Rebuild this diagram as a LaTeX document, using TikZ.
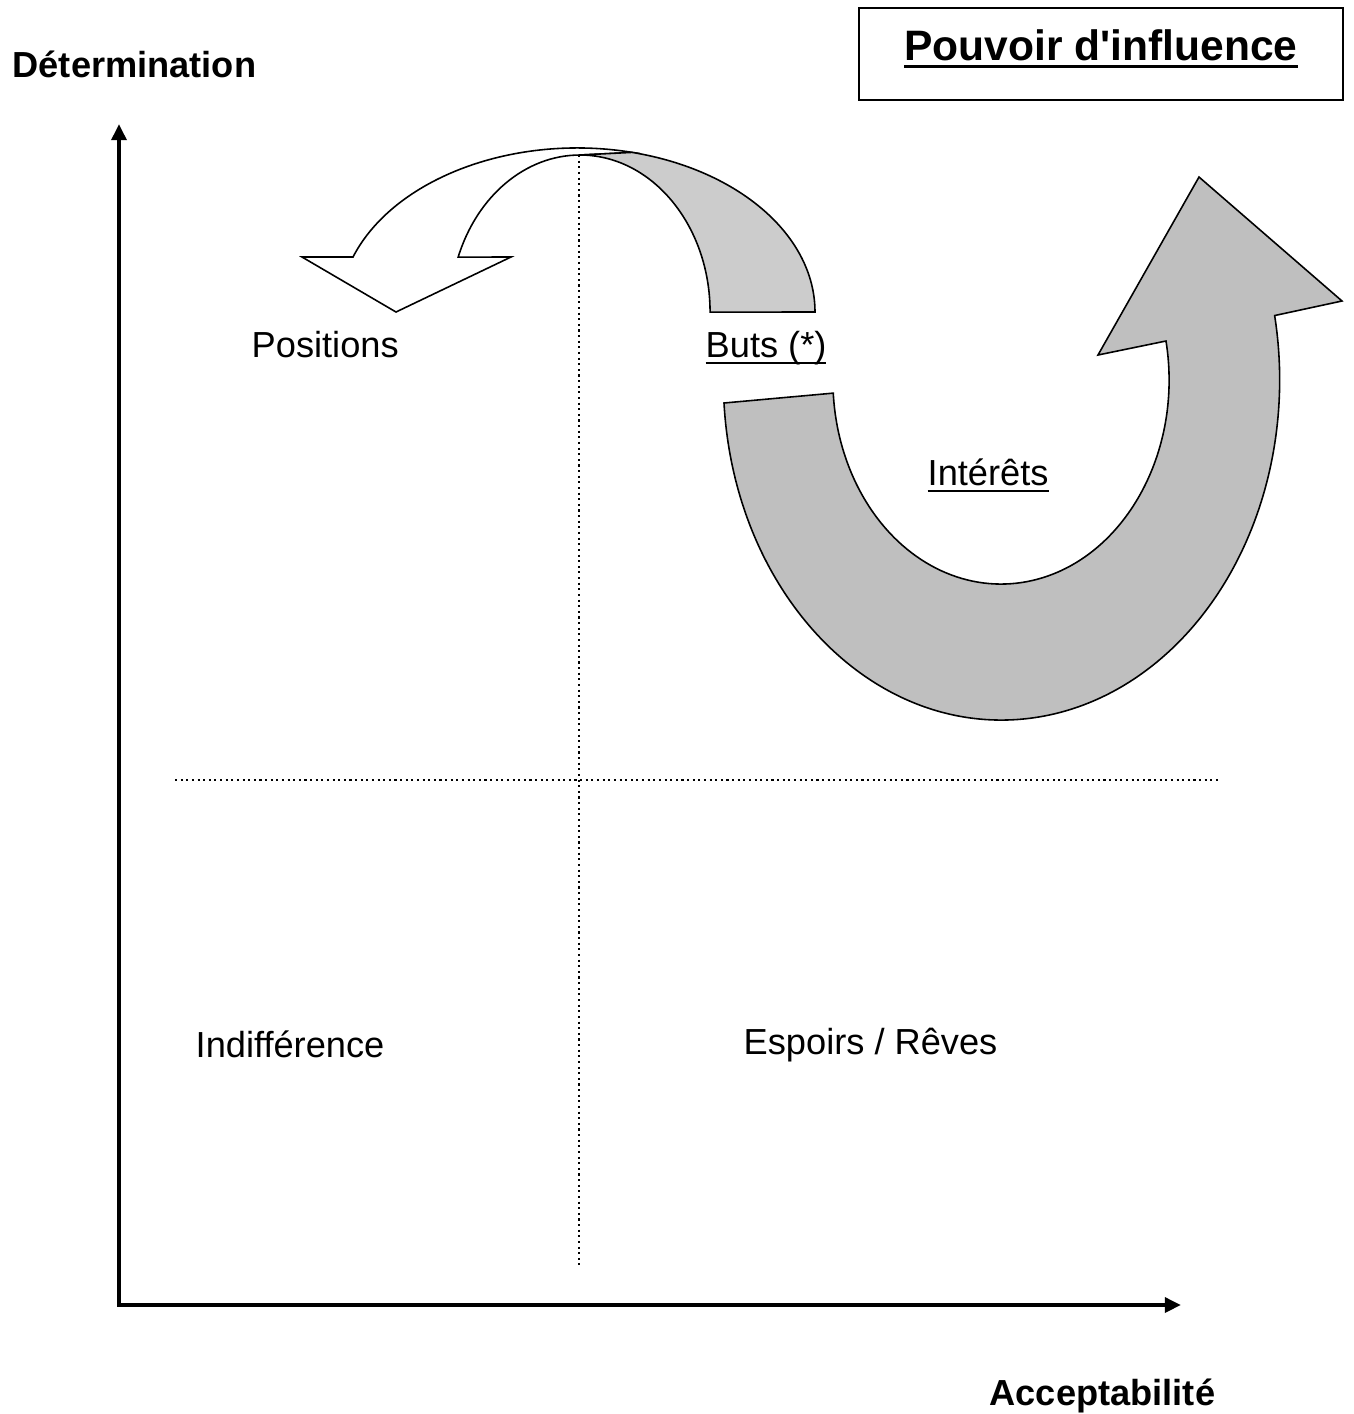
\documentclass[tikz,border=0pt]{standalone}
\usepackage{fontspec}
\setmainfont{Liberation Sans}
\usetikzlibrary{arrows.meta}
\newsavebox{\soulbox}
\newcommand{\souligne}[2][0.06em]{\leavevmode\sbox{\soulbox}{#2}%
  \rlap{\rule[-0.19em]{\wd\soulbox}{#1}}\usebox{\soulbox}}

\begin{document}
\begin{tikzpicture}[x=0.01cm, y=-0.01cm,
    every node/.style = {inner sep=0pt, font=\fontsize{10.3}{12}\selectfont},
    quadrant/.style   = {anchor=base west},
    axis label/.style = {anchor=base west,
      font=\fontsize{10.3}{12}\selectfont\bfseries},
    axis/.style       = {line width=1.1pt, line join=miter,
      {Triangle[length=4.6pt,width=4.2pt]}-{Triangle[length=4.6pt,width=4.2pt]}},
    grid line/.style  = {densely dotted, line width=0.6pt},
    head arrow/.style = {draw, fill=white, line width=0.45pt},
    tail arrow/.style = {draw, fill=black!20, line width=0.45pt},
    big arrow/.style  = {draw, fill=black!25, line width=0.45pt},
  ]
  \useasboundingbox (0,0) rectangle (1354,1414);

  % axes
  \coordinate (origin) at (119,1305);
  \coordinate (ytop) at (119,124);
  \coordinate (xend) at (1181,1305);
  \draw[axis] (ytop) -- (origin) -- (xend);
  \node[axis label] (determination) at (12,77) {Détermination};
  \node[axis label] (acceptabilite) at (989,1405) {Acceptabilité};

  % quadrants
  \coordinate (vtop) at (579,155);
  \coordinate (vbot) at (579,1265);
  \coordinate (hleft) at (175,780);
  \coordinate (hright) at (1220,780);
  \draw[grid line] (vtop) -- (vbot);
  \draw[grid line] (hleft) -- (hright);

  % title
  \node[draw, line width=0.5pt, minimum width=4.84cm, minimum height=0.92cm]
    (titlebox) at (1101,54) {};
  \node[anchor=base, font=\fontsize{12.1}{14}\selectfont\bfseries]
    (titre) at (1101,60) {\souligne[0.07em]{Pouvoir d\textquotesingle influence}};

  % small curved arrow: buts -> positions
  \coordinate (cusp) at (580,155);
  \coordinate (tailend) at (815,312);
  \draw[head arrow] (cusp)
    arc[start angle=90, end angle=159.5, x radius=1.30cm, y radius=1.57cm]
    -- (511,257) -- (396,312) -- (302,257) -- (353,257)
    arc[start angle=160.4, end angle=76.6, x radius=2.38cm, y radius=1.64cm]
    -- cycle;
  \draw[tail arrow] (cusp)
    arc[start angle=90, end angle=0, x radius=1.30cm, y radius=1.57cm]
    -- (tailend)
    arc[start angle=0, end angle=76.6, x radius=2.38cm, y radius=1.64cm]
    -- cycle;

  % big curved arrow: interets
  \coordinate (bigtailout) at (724,403);
  \coordinate (bigheadin) at (1166,341);
  \draw[big arrow] (bigtailout)
    arc[start angle=183.9, end angle=370.9, x radius=2.78cm, y radius=3.40cm]
    -- (1342,301) -- (1199,177) -- (1098,355) -- (bigheadin)
    arc[start angle=11, end angle=-176.3, x radius=1.68cm, y radius=2.04cm]
    -- cycle;

  % labels
  \node[quadrant] (positions) at (251,357) {Positions};
  \node[quadrant] (buts) at (705,357) {\souligne{Buts (*)}};
  \node[quadrant] (interets) at (927,485) {\souligne{Intérêts}};
  \node[quadrant] (indifference) at (195,1057) {Indifférence};
  \node[quadrant] (espoirs) at (743,1054) {Espoirs / Rêves};
\end{tikzpicture}
\end{document}
